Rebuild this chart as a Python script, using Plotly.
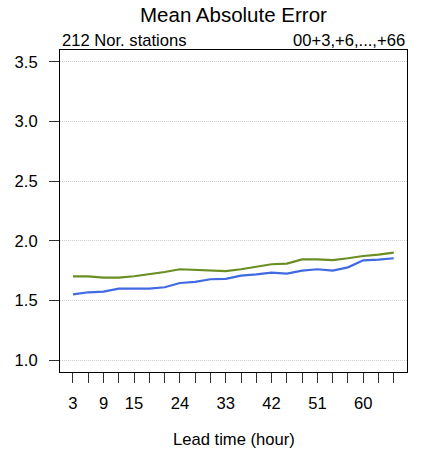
import plotly.graph_objects as go

lead_time = [3, 6, 9, 12, 15, 18, 21, 24, 27, 30, 33, 36, 39, 42, 45, 48, 51, 54, 57, 60, 63, 66]
mae_green = [1.704, 1.704, 1.693, 1.693, 1.704, 1.720, 1.740, 1.763, 1.757, 1.748, 1.748, 1.763,
             1.785, 1.805, 1.810, 1.846, 1.846, 1.840, 1.855, 1.874, 1.885, 1.902]
mae_blue = [1.553, 1.570, 1.575, 1.600, 1.600, 1.600, 1.612, 1.648, 1.657, 1.679, 1.682, 1.710,
            1.720, 1.735, 1.727, 1.752, 1.763, 1.752, 1.779, 1.838, 1.843, 1.855]
x_labels = {3: "3", 9: "9", 15: "15", 24: "24", 33: "33", 42: "42", 51: "51", 60: "60"}
y_ticks = [1.0, 1.5, 2.0, 2.5, 3.0, 3.5]

FONT = "Liberation Sans, Arial, Helvetica, sans-serif"
FS = 16.6

fig = go.Figure()
fig.add_trace(go.Scatter(x=lead_time, y=mae_green, mode="lines",
                         line=dict(color="#6b8e23", width=2.2), showlegend=False))
fig.add_trace(go.Scatter(x=lead_time, y=mae_blue, mode="lines",
                         line=dict(color="#4169e1", width=2.2), showlegend=False))

fig.update_layout(
    width=423, height=457,
    margin=dict(l=60, r=16, t=50, b=85),
    paper_bgcolor="white", plot_bgcolor="white",
    font=dict(family=FONT, size=FS, color="black"),
    showlegend=False,
)
fig.update_xaxes(
    range=[0.45, 68.6], tickmode="array", tickvals=lead_time,
    ticktext=[x_labels.get(v, "") for v in lead_time],
    ticks="outside", ticklen=10, tickcolor="#333", tickwidth=1,
    showgrid=False, zeroline=False,
    showline=True, linecolor="black", linewidth=1, mirror=True,
    ticklabelstandoff=6,
    tickfont=dict(size=FS),
)
fig.update_yaxes(
    range=[0.902, 3.60], tickmode="array", tickvals=y_ticks,
    ticktext=[f"{v:.1f}" for v in y_ticks],
    ticks="outside", ticklen=10, tickcolor="#333", tickwidth=1,
    showgrid=True, gridcolor="#d0d0d0", griddash="1px,1px", gridwidth=1,
    zeroline=False,
    showline=True, linecolor="black", linewidth=1, mirror=True,
    ticklabelstandoff=8,
    tickfont=dict(size=FS),
)
fig.add_annotation(text="Mean Absolute Error", xref="paper", yref="paper",
                   x=0.5, y=1, yshift=22, xanchor="center", yanchor="bottom",
                   showarrow=False, font=dict(size=20.5))
fig.add_annotation(text="212 Nor. stations", xref="paper", yref="paper",
                   x=0, y=1, xanchor="left", yanchor="bottom", yshift=-2,
                   showarrow=False, font=dict(size=FS))
fig.add_annotation(text="00+3,+6,...,+66", xref="paper", yref="paper",
                   x=1, y=1, xanchor="right", yanchor="bottom", yshift=-2,
                   showarrow=False, font=dict(size=FS))
fig.add_annotation(text="Lead time (hour)", xref="paper", yref="paper",
                   x=0.5, y=0, yshift=-56, xanchor="center", yanchor="top",
                   showarrow=False, font=dict(size=FS))

fig.write_html("out.html", config={"displayModeBar": False},
               post_script="document.body.style.margin='0';")
